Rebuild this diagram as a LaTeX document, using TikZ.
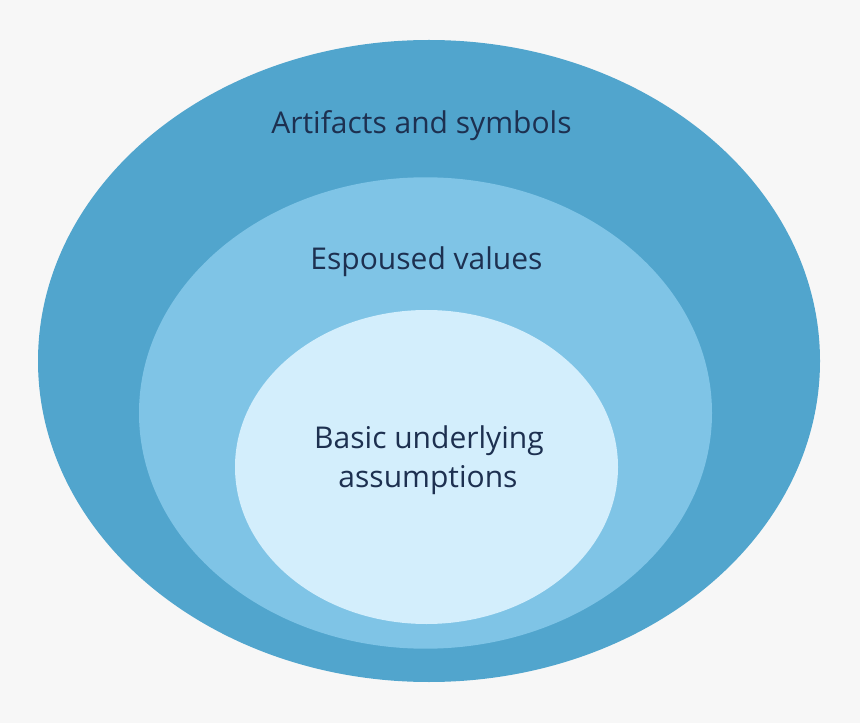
\documentclass[tikz,border=0pt]{standalone}
\usepackage{fontspec}
\setmainfont{Open Sans}
\definecolor{bgc}{HTML}{F7F7F7}
\definecolor{outerc}{HTML}{51A5CD}
\definecolor{midc}{HTML}{7FC4E6}
\definecolor{innerc}{HTML}{D3EEFC}
\definecolor{txtc}{HTML}{1D3050}
\begin{document}
\begin{tikzpicture}[x=0.75pt,y=-0.75pt,
  lbl/.style={text=txtc,font=\fontsize{22.5pt}{30pt}\selectfont,anchor=base,inner sep=0pt}]
\fill[bgc] (0,0) rectangle (860,723);
\useasboundingbox (0,0) rectangle (860,723);
\fill[outerc] (429,361) ellipse [x radius=391, y radius=321];
\fill[midc] (425.5,413) ellipse [x radius=286.5, y radius=235.7];
\fill[innerc] (426.5,467) ellipse [x radius=191.5, y radius=157];
\node[lbl] (art) at (421.5,133.5) {Artifacts and symbols};
\node[lbl] (esp) at (426.5,269.5) {Espoused values};
\node[lbl] (bas) at (429,448.5) {Basic underlying};
\node[lbl] (ass) at (428,487.5) {assumptions};
\end{tikzpicture}
\end{document}
